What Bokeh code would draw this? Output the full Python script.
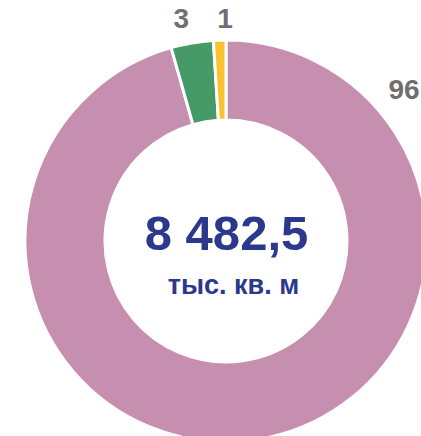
import math
from bokeh.plotting import figure
from bokeh.models import Range1d, ColumnDataSource
from bokeh.core.properties import value
from bokeh.embed import file_html
from bokeh.resources import INLINE

# ---- data ----
categories = ["Сегмент A", "Сегмент B", "Сегмент C"]
shares = [95.6, 3.4, 1.0]
share_labels = ["96", "3", "1"]
colors = ["#c68fb0", "#469a68", "#fbc22f"]
total_text = "8 482,5"
unit_text = "тыс. кв. м"

# ---- layout (page pixel coordinates mapped to data) ----
W, H = 421, 436
p = figure(width=W, height=H, output_backend="svg", toolbar_location=None,
           x_range=Range1d(0, W), y_range=Range1d(0, H),
           min_border=0, outline_line_color=None, background_fill_color="white",
           border_fill_color="white")
p.axis.visible = False
p.grid.visible = False

cx, cy = 225.5, H - 240.5
r_in, r_out = 121.0, 201.0

total = sum(shares)
starts, ends = [], []
cum = 0.0
for s in shares:
    starts.append(math.pi / 2 - 2 * math.pi * cum / total)
    cum += s
    ends.append(math.pi / 2 - 2 * math.pi * cum / total)

src = ColumnDataSource(dict(cat=categories, start=starts, end=ends, color=colors))
p.annular_wedge(x=cx, y=cy, inner_radius=r_in, outer_radius=r_out,
                start_angle="start", end_angle="end", direction="clock",
                fill_color="color", line_color="white", line_width=3, source=src)

# slice labels (positions are style; y = vertical centre of the glyphs)
label_pos = [(388, H - 88.5, "left"), (180.8, H - 18.3, "center"), (224.5, H - 18.3, "center")]
lsrc = ColumnDataSource(dict(x=[q[0] for q in label_pos], y=[q[1] for q in label_pos],
                             t=share_labels, a=[q[2] for q in label_pos]))
p.text(x="x", y="y", text="t", text_align="a", text_baseline="middle",
       text_font=value("Liberation Sans"), text_font_style="bold",
       text_font_size="28px", text_color="#6f6f6f", source=lsrc)

# centre texts
p.text(x=[cx + 0.5], y=[H - 232.0], text=[total_text], text_align="center",
       text_baseline="middle", text_font=value("Liberation Sans"),
       text_font_style="bold", text_font_size="49px", text_color="#2a398c")
p.text(x=[cx + 7.5], y=[H - 284.0], text=[unit_text], text_align="center",
       text_baseline="middle", text_font=value("Liberation Sans"),
       text_font_style="bold", text_font_size="27px", text_color="#2a398c")

open("out.html", "w").write(file_html(p, INLINE))
